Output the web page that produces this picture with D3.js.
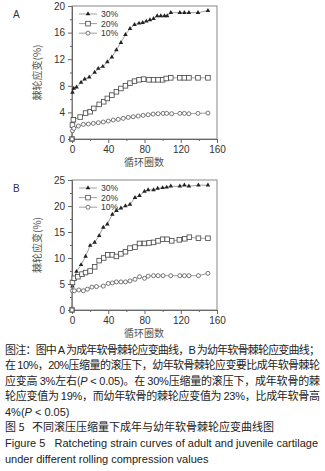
<!DOCTYPE html>
<html>
<head>
<meta charset="utf-8">
<script src="https://cdn.jsdelivr.net/npm/d3@7"></script>
<style>
  body { margin: 0; background: #fff; }
  text { font-family: "Liberation Sans", Arial, "Noto Sans CJK SC", sans-serif; white-space: pre; }
  .cjk { font-family: "Noto Sans CJK SC", sans-serif; }
</style>
</head>
<body>
<div id="chart"></div>
<script>
// panel A (adult) - cycles / strain %
var a30x = [0, 0.5, 2, 5, 10, 14, 19, 25, 29, 34, 39, 44, 49, 54, 59, 64, 69, 74, 78, 82, 86, 90, 94, 98, 102, 105, 109, 119, 124, 129, 139, 150]
var a30y = [0, 7.0, 7.6, 7.8, 8.5, 9.0, 9.3, 10.0, 10.6, 10.9, 11.6, 12.3, 13.4, 14.5, 15.7, 16.6, 17.2, 17.4, 17.5, 17.7, 17.9, 18.1, 18.5, 18.5, 18.5, 18.5, 19.0, 19.0, 19.0, 19.0, 19.0, 19.3]
var a20x = [0, 0.5, 1.5, 9, 15, 20, 24, 30, 35, 39, 44, 49, 54, 59, 64, 69, 74, 79, 85, 90, 95, 100, 104, 109, 119, 124, 129, 139, 150]
var a20y = [0, 2.1, 2.9, 3.3, 3.9, 4.1, 4.6, 5.2, 5.6, 6.1, 6.6, 7.1, 7.6, 8.0, 8.4, 8.7, 8.9, 9.0, 8.9, 8.9, 8.9, 8.9, 9.1, 9.2, 9.2, 9.2, 9.2, 9.2, 9.2]
var a10x = [0, 0.5, 2, 7, 12.5, 18, 23.5, 29, 34.5, 40, 45.5, 51, 56.5, 62, 67.5, 73, 78.5, 84, 89.5, 95, 100.5, 104.5, 110, 119, 124, 129, 139, 150]
var a10y = [0, 1.25, 1.6, 1.95, 2.2, 2.25, 2.35, 2.45, 2.55, 2.7, 2.85, 2.95, 3.1, 3.25, 3.35, 3.45, 3.55, 3.65, 3.75, 3.8, 3.85, 3.85, 3.8, 3.85, 3.85, 3.8, 3.85, 3.9]

// panel B (juvenile)
var b30x = [0, 0.5, 5, 10, 15, 20, 25, 30, 34.5, 39, 44.5, 49, 54, 59, 64, 69.5, 74.5, 80, 84, 90, 94.5, 100, 104.5, 109, 119, 124, 129, 139.5, 150]
var b30y = [0, 4.6, 7.4, 8.7, 10.3, 12.4, 13.0, 14.3, 15.9, 16.5, 18.4, 19.1, 19.6, 20.0, 20.3, 21.6, 22.0, 22.8, 23.1, 23.1, 23.4, 23.5, 23.6, 23.8, 23.8, 24.0, 23.8, 24.0, 24.0]
var b20x = [0, 0.5, 2.5, 6.5, 11, 15, 20, 25, 30, 35, 39.5, 44.5, 49, 54, 59, 64, 69.5, 74.5, 80, 85, 90, 95, 100, 105, 110, 118.5, 124.5, 129.5, 139.5, 150]
var b20y = [0, 5.3, 6.1, 6.4, 6.9, 7.2, 7.5, 8.3, 9.5, 10.0, 10.6, 10.6, 10.3, 10.8, 11.2, 11.9, 12.1, 12.8, 12.8, 12.9, 13.0, 13.3, 13.6, 13.6, 13.3, 13.5, 13.7, 14.0, 13.8, 13.8]
var b10x = [0, 0.5, 2.5, 7.5, 12.5, 17, 22, 27, 34.5, 40, 44.5, 49, 54, 59, 64, 69.5, 74.5, 80, 84, 90, 95, 100.5, 109, 119, 124, 129, 139.5, 150]
var b10y = [0, 3.7, 3.7, 3.85, 3.7, 4.0, 4.4, 4.5, 4.6, 5.1, 5.2, 5.4, 5.4, 5.4, 5.6, 5.9, 6.4, 6.1, 6.5, 6.6, 6.6, 6.6, 6.6, 6.6, 6.6, 6.6, 6.6, 7.05]

var seriesNames = ["30%", "20%", "10%"]
var markerTypes = ["triangle", "square", "circle"]
var xTicks = [0, 40, 80, 120, 160]
var aYTicks = [0, 4, 8, 12, 16, 20]
var bYTicks = [0, 5, 10, 15, 20, 25]
var yLabel = "棘轮应变(%)"
var xLabel = "循环圈数"

var captionLines = [
    [["图注：图中 ", ""], ["A", "lat"], [" 为成年软骨棘轮应变曲线，", ""], ["B", "lat"], [" 为幼年软骨棘轮应变曲线；", ""]],
    [["在 ", ""], ["10%，20%", "lat"], ["压缩量的滚压下，幼年软骨棘轮应变要比成年软骨棘轮", ""]],
    [["应变高 ", ""], ["3%", "lat"], ["左右(", ""], ["P", "it"], [" < 0.05)", "lat"], ["。在 ", ""], ["30%", "lat"], ["压缩量的滚压下，成年软骨的棘", ""]],
    [["轮应变值为 ", ""], ["19%", "lat"], ["，而幼年软骨的棘轮应变值为 ", ""], ["23%", "lat"], ["，比成年软骨高", ""]],
    [["4%(", "lat"], ["P", "it"], [" < 0.05)", "lat"]],
    [["图 5   不同滚压压缩量下成年与幼年软骨棘轮应变曲线图", ""]],
    [["Figure 5   Ratcheting strain curves of adult and juvenile cartilage", "lat"]],
    [["under different rolling compression values", "lat"]]
]
var captionJustify = [true, true, true, true, false, false, false, false]

var svg = d3.select("#chart").append("svg")
    .attr("width", 325)
    .attr("height", 471)

function drawPanel(letter, top, bottom, ymax, yTicks, series) {
    var x = d3.scaleLinear().domain([0, 160]).range([72, 217])
    var y = d3.scaleLinear().domain([0, ymax]).range([bottom, top])
    var g = svg.append("g")
    var minorStep = yTicks[1] / 2

    g.append("rect")
        .attr("x", x(0)).attr("y", y(ymax))
        .attr("width", x(160) - x(0)).attr("height", y(0) - y(ymax))
        .attr("fill", "none").attr("stroke", "#888").attr("stroke-width", 1)

    g.append("g")
        .attr("transform", "translate(" + x(0) + ",0)")
        .call(d3.axisLeft(y).tickValues(yTicks).tickSize(4).tickPadding(3).tickFormat(d3.format("d")))
    var yMinor = d3.range(minorStep, ymax, minorStep * 2)
    g.append("g")
        .attr("transform", "translate(" + x(0) + ",0)")
        .call(d3.axisLeft(y).tickValues(yMinor).tickSize(2).tickFormat(""))
        .select(".domain").remove()

    g.append("g")
        .attr("transform", "translate(0," + y(0) + ")")
        .call(d3.axisBottom(x).tickValues(xTicks).tickSize(4).tickPadding(3))
    g.append("g")
        .attr("transform", "translate(0," + y(0) + ")")
        .call(d3.axisBottom(x).tickValues([20, 60, 100, 140]).tickSize(2).tickFormat(""))
        .select(".domain").remove()

    g.selectAll(".domain").attr("stroke", "#666")
    g.selectAll(".tick line").attr("stroke", "#666")
    g.selectAll(".tick text").attr("fill", "#333").style("font-size", "10px")

    g.append("text")
        .attr("x", 13).attr("y", top + 12)
        .attr("font-size", 10).attr("fill", "#333").text(letter)

    g.append("text")
        .attr("class", "cjk")
        .attr("transform", "translate(41," + ((top + bottom) / 2) + ") rotate(-90)")
        .attr("text-anchor", "middle")
        .attr("font-size", 10).attr("fill", "#555")
        .text(yLabel)

    g.append("text")
        .attr("class", "cjk")
        .attr("x", 144).attr("y", bottom + 27)
        .attr("text-anchor", "middle")
        .attr("font-size", 10).attr("fill", "#555")
        .text(xLabel)

    var line = d3.line().x(d => x(d[0])).y(d => y(d[1]))

    series.forEach(function (s, i) {
        var pts = s.xs.map((v, j) => [v, s.ys[j]])
        g.append("path")
            .attr("d", line(pts))
            .attr("fill", "none").attr("stroke", "#888").attr("stroke-width", 0.8)
        drawMarkers(g, pts.map(p => [x(p[0]), y(p[1])]), markerTypes[i])

        // legend
        var ly = top + 8 + i * 9.6
        g.append("line")
            .attr("x1", 79).attr("x2", 97).attr("y1", ly).attr("y2", ly)
            .attr("stroke", "#888").attr("stroke-width", 0.8)
        drawMarkers(g, [[88, ly]], markerTypes[i])
        g.append("text")
            .attr("x", 101).attr("y", ly + 3.2)
            .attr("font-size", 8.6).attr("fill", "#333")
            .text(seriesNames[i])
    })
}

function drawMarkers(g, pts, type) {
    if (type == "triangle") {
        g.selectAll(null).data(pts).enter().append("path")
            .attr("d", d3.symbol().type(d3.symbolTriangle).size(9))
            .attr("transform", d => "translate(" + d[0] + "," + d[1] + ")")
            .attr("fill", "#222")
    } else if (type == "square") {
        g.selectAll(null).data(pts).enter().append("rect")
            .attr("x", d => d[0] - 2.3).attr("y", d => d[1] - 2.3)
            .attr("width", 4.6).attr("height", 4.6)
            .attr("fill", "#fff").attr("stroke", "#444").attr("stroke-width", 0.8)
    } else {
        g.selectAll(null).data(pts).enter().append("circle")
            .attr("cx", d => d[0]).attr("cy", d => d[1]).attr("r", 2)
            .attr("fill", "#fff").attr("stroke", "#555").attr("stroke-width", 0.8)
    }
}

drawPanel("A", 6, 139, 20, aYTicks, [
    { xs: a30x, ys: a30y }, { xs: a20x, ys: a20y }, { xs: a10x, ys: a10y }])
drawPanel("B", 180, 310, 25, bYTicks, [
    { xs: b30x, ys: b30y }, { xs: b20x, ys: b20y }, { xs: b10x, ys: b10y }])

// caption
var capY = [353.5, 369, 384.5, 400, 415.5, 431, 447, 462.5]
captionLines.forEach(function (parts, i) {
    var t = svg.append("text")
        .attr("x", 5).attr("y", capY[i])
        .attr("font-size", 11).attr("fill", "#222")
    if (captionJustify[i]) t.attr("textLength", 315).attr("lengthAdjust", "spacing")
    parts.forEach(function (p) {
        var ts = t.append("tspan").text(p[0])
        if (p[1] == "") ts.attr("class", "cjk")
        if (p[1] == "it") ts.attr("font-style", "italic")
    })
})
</script>
</body>
</html>
